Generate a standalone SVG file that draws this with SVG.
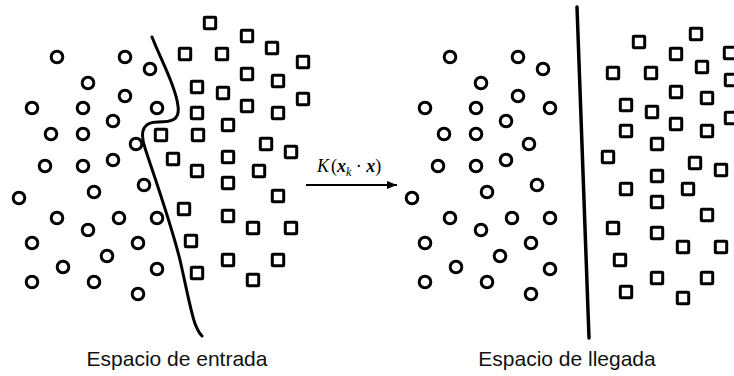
<svg xmlns="http://www.w3.org/2000/svg" xmlns:xlink="http://www.w3.org/1999/xlink" width="734" height="376" viewBox="0 0 734 376">
<style>
.pt{fill:none;stroke:#000;stroke-width:3}
.sep{fill:none;stroke:#000;stroke-width:3;stroke-linecap:round}
.lbl{font-family:"Liberation Sans",Arial,sans-serif;font-size:21px;fill:#111;text-anchor:middle}
.math{font-family:"Liberation Serif","Times New Roman",serif;font-size:18px;fill:#000}
</style>
<defs>
<circle id="ci" r="5.8" class="pt"/>
<rect id="sq" x="-5.7" y="-5.7" width="11.4" height="11.4" rx="0.8" class="pt"/>
<marker id="ah" markerWidth="10" markerHeight="8" refX="10" refY="4" orient="auto" markerUnits="userSpaceOnUse">
<path d="M0,0 L10,4 L0,8 z" fill="#000"/>
</marker>
<g id="circset">
<use xlink:href="#ci" x="57" y="57"/><use xlink:href="#ci" x="125" y="57"/><use xlink:href="#ci" x="150" y="69"/>
<use xlink:href="#ci" x="88" y="83"/><use xlink:href="#ci" x="125" y="96"/><use xlink:href="#ci" x="32" y="108"/>
<use xlink:href="#ci" x="83" y="108"/><use xlink:href="#ci" x="157" y="108"/><use xlink:href="#ci" x="113" y="121"/>
<use xlink:href="#ci" x="51" y="134"/><use xlink:href="#ci" x="83" y="134"/><use xlink:href="#ci" x="136" y="144"/>
<use xlink:href="#ci" x="113" y="160"/><use xlink:href="#ci" x="45" y="166"/><use xlink:href="#ci" x="83" y="166"/>
<use xlink:href="#ci" x="144" y="185"/><use xlink:href="#ci" x="94" y="192"/><use xlink:href="#ci" x="19" y="198"/>
<use xlink:href="#ci" x="57" y="218"/><use xlink:href="#ci" x="119" y="218"/><use xlink:href="#ci" x="157" y="218"/>
<use xlink:href="#ci" x="88" y="230"/><use xlink:href="#ci" x="32" y="243"/><use xlink:href="#ci" x="138" y="243"/>
<use xlink:href="#ci" x="107" y="256"/><use xlink:href="#ci" x="63" y="267"/><use xlink:href="#ci" x="157" y="269"/>
<use xlink:href="#ci" x="32" y="282"/><use xlink:href="#ci" x="94" y="282"/><use xlink:href="#ci" x="138" y="294"/>
</g>
</defs>

<g id="left-circles"><use xlink:href="#circset"/></g>

<g id="left-squares">
<use xlink:href="#sq" x="210" y="23"/><use xlink:href="#sq" x="247" y="36"/><use xlink:href="#sq" x="272" y="48"/>
<use xlink:href="#sq" x="185" y="54"/><use xlink:href="#sq" x="222" y="54"/><use xlink:href="#sq" x="303" y="62"/>
<use xlink:href="#sq" x="247" y="74"/><use xlink:href="#sq" x="278" y="81"/><use xlink:href="#sq" x="197" y="87"/>
<use xlink:href="#sq" x="223" y="93"/><use xlink:href="#sq" x="303" y="99"/><use xlink:href="#sq" x="247" y="106"/>
<use xlink:href="#sq" x="278" y="113"/><use xlink:href="#sq" x="197" y="113"/><use xlink:href="#sq" x="228" y="125"/>
<use xlink:href="#sq" x="161" y="135"/><use xlink:href="#sq" x="198" y="135"/><use xlink:href="#sq" x="266" y="144"/>
<use xlink:href="#sq" x="291" y="152"/><use xlink:href="#sq" x="173" y="159"/><use xlink:href="#sq" x="228" y="157"/>
<use xlink:href="#sq" x="197" y="171"/><use xlink:href="#sq" x="259" y="171"/><use xlink:href="#sq" x="228" y="183"/>
<use xlink:href="#sq" x="278" y="196"/><use xlink:href="#sq" x="184" y="209"/><use xlink:href="#sq" x="228" y="216"/>
<use xlink:href="#sq" x="253" y="228"/><use xlink:href="#sq" x="291" y="228"/><use xlink:href="#sq" x="191" y="241"/>
<use xlink:href="#sq" x="228" y="260"/><use xlink:href="#sq" x="278" y="260"/><use xlink:href="#sq" x="197" y="273"/>
<use xlink:href="#sq" x="253" y="280"/>
</g>

<g id="right-circles"><use xlink:href="#circset" x="393"/></g>

<g id="right-squares">
<use xlink:href="#sq" x="696" y="34"/><use xlink:href="#sq" x="639" y="42"/><use xlink:href="#sq" x="676" y="54"/>
<use xlink:href="#sq" x="730" y="53"/><use xlink:href="#sq" x="613" y="73"/><use xlink:href="#sq" x="651" y="73"/>
<use xlink:href="#sq" x="702" y="67"/><use xlink:href="#sq" x="731" y="80"/><use xlink:href="#sq" x="676" y="92"/>
<use xlink:href="#sq" x="707" y="98"/><use xlink:href="#sq" x="626" y="105"/><use xlink:href="#sq" x="652" y="112"/>
<use xlink:href="#sq" x="731" y="118"/><use xlink:href="#sq" x="626" y="131"/><use xlink:href="#sq" x="676" y="124"/>
<use xlink:href="#sq" x="707" y="131"/><use xlink:href="#sq" x="657" y="144"/><use xlink:href="#sq" x="608" y="157"/>
<use xlink:href="#sq" x="695" y="163"/><use xlink:href="#sq" x="721" y="170"/><use xlink:href="#sq" x="657" y="176"/>
<use xlink:href="#sq" x="626" y="189"/><use xlink:href="#sq" x="688" y="189"/><use xlink:href="#sq" x="657" y="202"/>
<use xlink:href="#sq" x="707" y="215"/><use xlink:href="#sq" x="613" y="228"/><use xlink:href="#sq" x="657" y="233"/>
<use xlink:href="#sq" x="683" y="247"/><use xlink:href="#sq" x="721" y="247"/><use xlink:href="#sq" x="620" y="260"/>
<use xlink:href="#sq" x="657" y="278"/><use xlink:href="#sq" x="707" y="278"/><use xlink:href="#sq" x="626" y="292"/>
<use xlink:href="#sq" x="683" y="298"/>
</g>

<g id="connectors">
<path id="left-boundary" class="sep" d="M152,37 C162,62 176,88 178,106 C180,120 172,122 158,122 C144,122 139,130 145,148 C152,170 170,220 180,260 C188,295 192,318 196,326 C198,331 200,334 202,336"/>
<path id="right-boundary" class="sep" style="stroke-width:3.5" d="M577,7 L589,338"/>
<line id="kernel-arrow" x1="306" y1="185" x2="397" y2="185" stroke="#000" stroke-width="2" marker-end="url(#ah)"/>
</g>

<g id="kernel-label">
<text class="math" x="317" y="172"><tspan font-style="italic">K</tspan><tspan dx="2">(</tspan><tspan font-style="italic" font-weight="bold">x</tspan><tspan font-style="italic" font-size="12" dy="4">k</tspan><tspan dy="-4"> · </tspan><tspan font-style="italic" font-weight="bold">x</tspan>)</text>
</g>

<g id="label-left"><text class="lbl" x="177" y="366">Espacio de entrada</text></g>
<g id="label-right"><text class="lbl" x="567" y="366">Espacio de llegada</text></g>
</svg>
